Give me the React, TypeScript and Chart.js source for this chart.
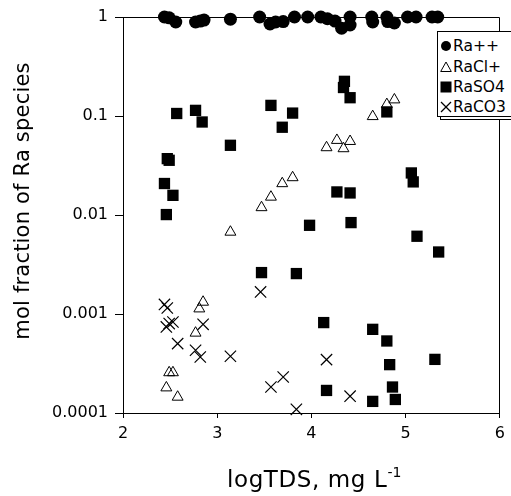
import React, { useEffect, useRef } from "react";
import { Chart, registerables } from "chart.js";

Chart.register(...registerables);

// ---- Data ----
const raPlusX = [2.44, 2.49, 2.56, 2.77, 2.82, 2.86, 3.14, 3.45, 3.56, 3.62, 3.70, 3.82, 3.96, 4.10, 4.17, 4.25, 4.32, 4.41, 4.41, 4.64, 4.65, 4.80, 4.81, 4.88, 5.02, 5.11, 5.28, 5.34];
const raPlusY = [1.0, 0.98, 0.89, 0.89, 0.91, 0.93, 0.95, 1.0, 0.85, 0.89, 0.9, 1.0, 1.0, 1.0, 0.96, 0.91, 0.77, 1.0, 0.83, 1.0, 0.89, 1.0, 0.9, 0.87, 1.0, 1.0, 1.0, 1.0];

const raClX = [4.65, 4.80, 4.88, 4.27, 4.41, 4.16, 4.34, 3.80, 3.69, 3.57, 3.47, 3.14, 2.85, 2.81, 2.77, 2.49, 2.53, 2.46, 2.58];
const raClY = [0.099, 0.131, 0.146, 0.0569, 0.0555, 0.048, 0.0469, 0.0239, 0.0208, 0.0152, 0.0119, 0.00673, 0.00132, 0.00113, 0.000643, 0.000256, 0.000256, 0.00018, 0.000145];

const raSO4X = [2.57, 2.77, 2.84, 3.57, 3.69, 3.80, 4.35, 4.34, 4.41, 4.80, 3.14, 2.47, 2.49, 2.44, 2.53, 2.46, 4.27, 4.41, 3.98, 4.42, 5.06, 5.08, 5.12, 5.35, 3.47, 3.84, 4.13, 4.65, 4.80, 4.83, 5.31, 4.16, 4.86, 4.65, 4.89];
const raSO4Y = [0.106, 0.114, 0.087, 0.128, 0.077, 0.107, 0.224, 0.194, 0.153, 0.110, 0.0506, 0.0371, 0.0357, 0.0208, 0.0158, 0.0101, 0.0171, 0.0167, 0.00787, 0.00838, 0.0266, 0.0216, 0.0061, 0.00423, 0.00262, 0.00256, 0.000819, 0.0007, 0.000534, 0.000308, 0.000348, 0.000169, 0.000183, 0.000131, 0.000137];

const raCO3X = [2.44, 2.47, 2.46, 2.49, 2.53, 2.58, 2.77, 2.82, 2.85, 3.14, 3.46, 3.57, 3.70, 3.84, 4.16, 4.41];
const raCO3Y = [0.00125, 0.00115, 0.00074, 0.0008, 0.00083, 0.000502, 0.00043, 0.000368, 0.000787, 0.000374, 0.00167, 0.000183, 0.000231, 0.000109, 0.000346, 0.000148];

const seriesLabels = ["Ra++", "RaCl+", "RaSO4", "RaCO3"];
const xTickValues = [2, 3, 4, 5, 6];
const yTickValues = [0.0001, 0.001, 0.01, 0.1, 1];
const yTickLabels = ["0.0001", "0.001", "0.01", "0.1", "1"];
const xTitle = "logTDS, mg L";
const xTitleSup = "-1";
const yTitle = "mol fraction of Ra species";

const FONT = "'DejaVu Sans', sans-serif";

function pts(xs: number[], ys: number[]) {
  return xs.map((x, i) => ({ x, y: ys[i] }));
}

const framePlugin = {
  id: "frame",
  beforeDatasetsDraw(chart: any) {
    const { ctx, chartArea } = chart;
    ctx.save();
    ctx.strokeStyle = "#000";
    ctx.lineWidth = 1;
    ctx.beginPath();
    ctx.moveTo(chartArea.left, Math.round(chartArea.top) + 0.5);
    ctx.lineTo(Math.round(chartArea.right) - 0.5, Math.round(chartArea.top) + 0.5);
    ctx.lineTo(Math.round(chartArea.right) - 0.5, chartArea.bottom);
    ctx.stroke();
    ctx.restore();
  },
};

function Marker({ kind }: { kind: number }) {
  return (
    <svg width={12} height={12} viewBox="0 0 12 12" style={{ display: "block" }}>
      {kind === 0 && <circle cx={6} cy={6} r={5} fill="#000" />}
      {kind === 1 && <polygon points="6,1 11.3,10.5 0.7,10.5" fill="none" stroke="#000" strokeWidth={1} />}
      {kind === 2 && <rect x={0.5} y={0.5} width={11} height={11} fill="#000" />}
      {kind === 3 && (
        <g stroke="#000" strokeWidth={1.2}>
          <line x1={1} y1={1} x2={11} y2={11} />
          <line x1={11} y1={1} x2={1} y2={11} />
        </g>
      )}
    </svg>
  );
}

export default function App() {
  const canvasRef = useRef<HTMLCanvasElement | null>(null);

  useEffect(() => {
    const canvas = canvasRef.current;
    if (!canvas) return;
    const chart = new Chart(canvas, {
      type: "scatter",
      data: {
        datasets: [
          {
            label: seriesLabels[0],
            data: pts(raPlusX, raPlusY),
            pointStyle: "circle",
            pointRadius: 6.5,
            backgroundColor: "#000",
            borderColor: "#000",
            borderWidth: 0,
            clip: false,
          },
          {
            label: seriesLabels[1],
            data: pts(raClX, raClY),
            pointStyle: "triangle",
            pointRadius: 6.3,
            backgroundColor: "rgba(255,255,255,0)",
            borderColor: "#000",
            borderWidth: 1,
            clip: false,
          },
          {
            label: seriesLabels[2],
            data: pts(raSO4X, raSO4Y),
            pointStyle: "rect",
            pointRadius: 8,
            backgroundColor: "#000",
            borderColor: "#000",
            borderWidth: 0,
            clip: false,
          },
          {
            label: seriesLabels[3],
            data: pts(raCO3X, raCO3Y),
            pointStyle: "crossRot",
            pointRadius: 8,
            backgroundColor: "#000",
            borderColor: "#000",
            borderWidth: 1.2,
            clip: false,
          },
        ] as any,
      },
      options: {
        animation: false,
        responsive: false,
        devicePixelRatio: 1,
        events: [],
        layout: { padding: { top: 17, right: 6, left: 0, bottom: 0 } },
        plugins: { legend: { display: false }, tooltip: { enabled: false } },
        scales: {
          x: {
            type: "linear",
            min: 2,
            max: 6,
            afterBuildTicks: (s: any) => {
              s.ticks = xTickValues.map((v) => ({ value: v }));
            },
            afterFit: (s: any) => {
              s.height = 83;
            },
            ticks: {
              color: "#000",
              font: { family: FONT, size: 16 },
              padding: 6,
              maxRotation: 0,
              autoSkip: false,
              callback: (v: any) => String(v),
            },
            grid: { drawOnChartArea: false, color: "#000", tickLength: 5, tickWidth: 1 },
            border: { display: true, color: "#000", width: 1 },
          },
          y: {
            type: "logarithmic",
            min: 0.0001,
            max: 1,
            afterBuildTicks: (s: any) => {
              s.ticks = yTickValues.map((v) => ({ value: v }));
            },
            afterFit: (s: any) => {
              s.width = 123;
            },
            ticks: {
              color: "#000",
              font: { family: FONT, size: 16 },
              padding: 7,
              autoSkip: false,
              callback: (_v: any, i: number) => yTickLabels[i],
            },
            grid: { drawOnChartArea: false, color: "#000", tickLength: 8, tickWidth: 1 },
            border: { display: true, color: "#000", width: 1 },
          },
        },
      } as any,
      plugins: [framePlugin],
    });
    return () => chart.destroy();
  }, []);

  const legendTop = 31;
  const rowCenters = [46, 67, 87, 107];

  return (
    <div style={{ position: "absolute", left: 0, top: 0, width: 511, height: 496, overflow: "hidden", background: "#fff" }}>
      <canvas ref={canvasRef} width={511} height={496} style={{ position: "absolute", left: 0, top: 0, width: 511, height: 496 }} />
      {/* Y axis title */}
      <div
        style={{
          position: "absolute",
          left: 22 - 160,
          top: 201 - 14,
          width: 320,
          height: 28,
          lineHeight: "28px",
          textAlign: "center",
          transform: "rotate(-90deg)",
          fontFamily: FONT,
          fontSize: 21,
          letterSpacing: "0.2px",
          color: "#000",
          whiteSpace: "nowrap",
        }}
      >
        {yTitle}
      </div>
      {/* X axis title */}
      <div
        style={{
          position: "absolute",
          left: 227,
          top: 468,
          lineHeight: "23px",
          fontFamily: FONT,
          fontSize: 23,
          letterSpacing: "0.6px",
          color: "#000",
          whiteSpace: "nowrap",
        }}
      >
        {xTitle}
        <span style={{ fontSize: 14, position: "relative", top: -10, letterSpacing: 0 }}>{xTitleSup}</span>
      </div>
      {/* Legend */}
      <div style={{ position: "absolute", left: 440, top: legendTop + 3, width: 90, height: 84, border: "1px solid #000", background: "#fff" }} />
      <div style={{ position: "absolute", left: 437, top: legendTop, width: 90, height: 84, border: "1px solid #000", background: "#fff" }} />
      {seriesLabels.map((lab, i) => (
        <div
          key={lab}
          style={{
            position: "absolute",
            left: 440,
            top: rowCenters[i] - 10,
            height: 20,
            display: "flex",
            alignItems: "center",
            fontFamily: FONT,
            fontSize: 15.5,
            color: "#000",
            whiteSpace: "nowrap",
          }}
        >
          <Marker kind={i} />
          <span style={{ marginLeft: 1 }}>{lab}</span>
        </div>
      ))}
    </div>
  );
}
